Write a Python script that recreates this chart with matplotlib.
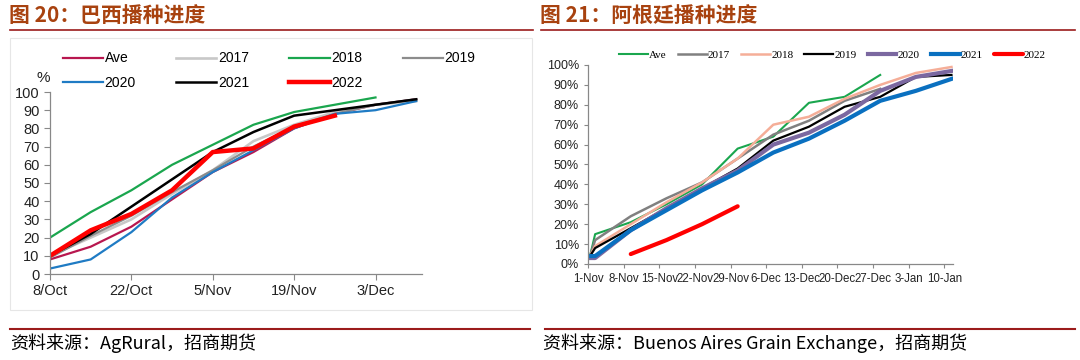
import matplotlib
matplotlib.use('Agg')
import matplotlib.pyplot as plt
from matplotlib.lines import Line2D
from matplotlib.patches import Rectangle

plt.rcParams['font.family'] = ['Liberation Sans', 'Noto Sans CJK SC', 'DejaVu Sans']

# Brazil sowing progress (%), weekly from 8/Oct
br_days = [0, 7, 14, 21, 28, 35, 42, 49, 56, 63]
br_ave = [8, 15, 26, 41, 56, 67, 80, 88, 93, 96]
br_2017 = [10, 20, 30, 44, 57, 73, 82, 89, 93, 95]
br_2018 = [20, 34, 46, 60, 71, 82, 89, 93, 97]
br_2019 = [9, 21, 32, 45, 57, 70, 81, 88, 93, 96]
br_2020 = [3, 8, 23, 42, 56, 68, 80, 88, 90, 95]
br_2021 = [10, 22, 37, 52, 67, 78, 87, 90, 93, 96]
br_2022 = [10, 24, 33, 46, 67, 69, 81, 87]
br_ticks = [0, 14, 28, 42, 56]
br_ticklabels = ['8/Oct', '22/Oct', '5/Nov', '19/Nov', '3/Dec']

# Argentina sowing progress (%), days from 1-Nov
ar_days = [0.4, 1.4, 8.4, 15.4, 22.4, 29.4, 36.4, 43.4, 50.4, 57.4, 64.4, 71.4]
ar_ave = [4, 15, 21, 30, 40, 58, 64, 81, 84, 95]
ar_2017 = [4, 12, 24, 33, 41, 53, 65, 72, 82, 88]
ar_2018 = [4, 9, 20, 31, 41, 53, 70, 74, 83, 90, 96, 99]
ar_2019 = [4, 8, 18, 28, 38, 48, 62, 69, 79, 84, 94, 95]
ar_2020 = [3, 3, 17, 28, 38, 47, 60, 66, 75, 87, 94, 97]
ar_2021 = [4, 4, 17, 27, 37, 46, 56, 63, 72, 82, 87, 93]
ar_2022_days = [8.4, 15.4, 22.4, 29.4]
ar_2022 = [5, 12, 20, 29]
ar_ticks = [0, 7, 14, 21, 28, 35, 42, 49, 56, 63, 70]
ar_ticklabels = ['1-Nov', '8-Nov', '15-Nov', '22-Nov', '29-Nov', '6-Dec',
                 '13-Dec', '20-Dec', '27-Dec', '3-Jan', '10-Jan']

W, H = 1080, 360
fig = plt.figure(figsize=(10.8, 3.6), dpi=100)


def fx(px):
    return px / W


def fy(py):
    return 1 - py / H


title_color = '#A8420F'
rule_color = '#9B1B1B'
cjk = ['Noto Sans CJK SC', 'DejaVu Sans']

# headers and footers
fig.text(fx(9), fy(16), '图 20：巴西播种进度', fontsize=15, fontweight='bold',
         color=title_color, va='center', family=cjk)
fig.text(fx(540), fy(16), '图 21：阿根廷播种进度', fontsize=15, fontweight='bold',
         color=title_color, va='center', family=cjk)
for x0, x1 in [(10, 533), (541, 1075)]:
    fig.add_artist(Line2D([fx(x0), fx(x1)], [fy(30), fy(30)], color=rule_color, lw=1.2))
for x0, x1 in [(10, 530), (545, 1075)]:
    fig.add_artist(Line2D([fx(x0), fx(x1)], [fy(329), fy(329)], color=rule_color, lw=1.5))
fig.text(fx(10), fy(343), '资料来源：AgRural，招商期货', fontsize=13, va='center',
         family=cjk)
fig.text(fx(543), fy(343), '资料来源：Buenos Aires Grain Exchange，招商期货', fontsize=13,
         va='center', family=cjk)

# faint frame round the left chart
fig.add_artist(Rectangle((fx(10), fy(310)), fx(522), 272 / H, transform=fig.transFigure,
                         fill=False, edgecolor='#E6E6E6', lw=0.8))

# ---- left: Brazil ----
ax1 = fig.add_axes([fx(50), fy(274), fx(372), 182 / H])
l_ave, = ax1.plot(br_days, br_ave, color='#B8174F', lw=1.6, label='Ave')
l17, = ax1.plot(br_days, br_2017, color='#C8C8C8', lw=1.9, label='2017')
l18, = ax1.plot(br_days[:len(br_2018)], br_2018, color='#1AA64E', lw=1.6, label='2018')
l19, = ax1.plot(br_days, br_2019, color='#8C8C8C', lw=1.6, label='2019')
l20, = ax1.plot(br_days, br_2020, color='#1F7BC4', lw=1.6, label='2020')
l21, = ax1.plot(br_days, br_2021, color='#000000', lw=1.8, label='2021')
l22, = ax1.plot(br_days[:len(br_2022)], br_2022, color='#FF0000', lw=3.2, label='2022',
                solid_joinstyle='round')
ax1.set_xlim(0, 64)
ax1.set_ylim(0, 100)
ax1.set_yticks(range(0, 101, 10))
ax1.set_xticks(br_ticks)
ax1.set_xticklabels(br_ticklabels)
ax1.tick_params(labelsize=10.5, color='#888888', length=4, width=0.8, colors='#222222')
for s in ['top', 'right']:
    ax1.spines[s].set_visible(False)
for s in ['left', 'bottom']:
    ax1.spines[s].set_color('#888888')
    ax1.spines[s].set_linewidth(0.9)
ax1.text(-0.035, 1.04, '%', transform=ax1.transAxes, fontsize=11, ha='left', va='bottom',
         color='#222222')
handles = [l_ave, l20, l17, l21, l18, l22, l19]
ax1.legend(handles=handles, labels=[h.get_label() for h in handles], ncol=4,
           loc='lower left', bbox_to_anchor=(0.035, 1.012), frameon=False, fontsize=10,
           handlelength=2.9, handletextpad=0.1, columnspacing=2.9, labelspacing=0.75,
           borderaxespad=0, borderpad=0)

# ---- right: Argentina ----
ax2 = fig.add_axes([fx(588), fy(264), fx(365), 199 / H])
ax2.plot(ar_days[:len(ar_ave)], ar_ave, color='#1AA64E', lw=1.5, label='Ave')
ax2.plot(ar_days[:len(ar_2017)], ar_2017, color='#808080', lw=1.8, label='2017')
ax2.plot(ar_days, ar_2018, color='#F5AE98', lw=1.8, label='2018')
ax2.plot(ar_days, ar_2019, color='#000000', lw=1.6, label='2019')
ax2.plot(ar_days, ar_2020, color='#7B68A0', lw=3.0, label='2020')
ax2.plot(ar_days, ar_2021, color='#0A70C0', lw=3.0, label='2021')
ax2.plot(ar_2022_days, ar_2022, color='#FF0000', lw=3.0, label='2022',
         solid_capstyle='round')
ax2.set_xlim(0, 71.7)
ax2.set_ylim(0, 100)
ax2.set_yticks(range(0, 101, 10))
ax2.set_yticklabels([f'{v}%' for v in range(0, 101, 10)])
ax2.set_xticks(ar_ticks)
ax2.set_xticklabels(ar_ticklabels)
ax2.tick_params(axis='y', labelsize=9)
ax2.tick_params(axis='x', labelsize=8.3)
ax2.tick_params(color='#888888', length=3, width=0.8, colors='#222222')
for s in ['top', 'right']:
    ax2.spines[s].set_visible(False)
for s in ['left', 'bottom']:
    ax2.spines[s].set_color('#888888')
    ax2.spines[s].set_linewidth(0.9)
ax2.legend(ncol=7, loc='lower left', bbox_to_anchor=(0.085, 1.025), frameon=False,
           prop={'family': 'Liberation Serif', 'size': 8}, handlelength=2.6,
           handletextpad=0.1, columnspacing=1.0, borderaxespad=0, borderpad=0)

fig.savefig('out.png', dpi=100)
